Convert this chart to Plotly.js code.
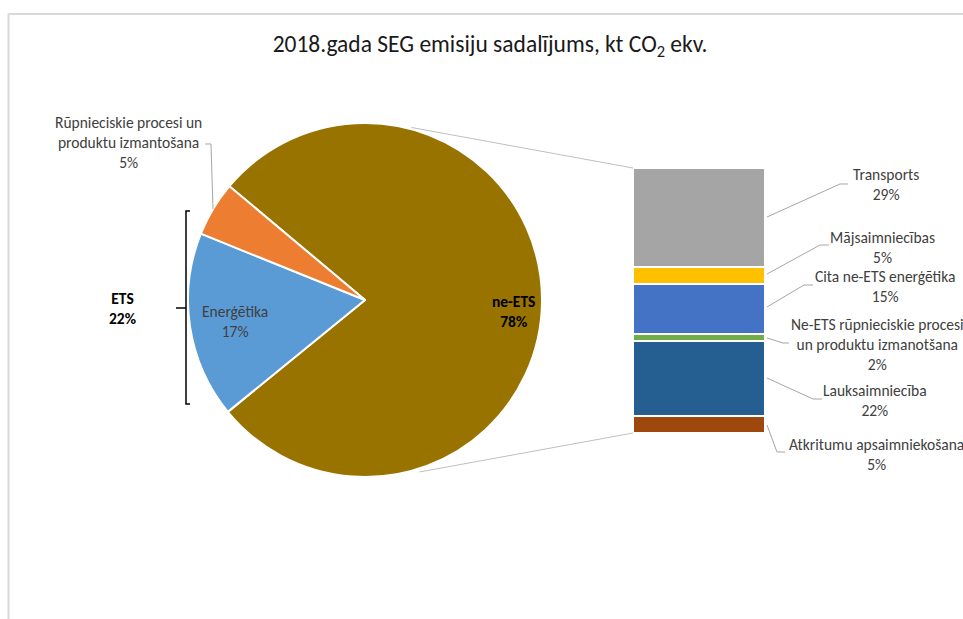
<!DOCTYPE html>
<html><head><meta charset="utf-8">
<script src="https://cdn.plot.ly/plotly-3.0.1.min.js"></script>
<style>html,body{margin:0;padding:0;background:#fff}#chart{width:963px;height:619px}</style>
</head><body><div id="chart"></div>
<script>
// ---- data ----
const titleText = '2018.gada SEG emisiju sadalījums, kt CO<sub>2</sub> ekv.';
const pieLabels = ['ne-ETS', 'Enerģētika', 'Rūpnieciskie procesi un<br>produktu izmantošana'];
const pieValues = [78, 17, 5];
const pieColors = ['#997300', '#5B9BD5', '#ED7D31'];
const barLabels = ['Transports', 'Mājsaimniecības', 'Cita ne-ETS enerģētika',
  'Ne-ETS rūpnieciskie procesi<br>un produktu izmanotšana', 'Lauksaimniecība', 'Atkritumu apsaimniekošana'];
const barValues = [29, 5, 15, 2, 22, 5];
const barColors = ['#A5A5A5', '#FFC000', '#4472C4', '#70AD47', '#255E91', '#9E480E'];
const groupLabel = 'ETS';
const groupValue = 22;

// ---- layout helpers (pixel -> paper) ----
const W = 963, H = 619;
const px = x => x / W, py = y => 1 - y / H;
const FONT = 'Calibri, Carlito, "Liberation Sans", Arial, sans-serif';
const TXT = '#404040';
const FS = 15.5;
function path(pts) { return pts.map((p, i) => (i ? 'L' : 'M') + px(p[0]).toFixed(5) + ',' + py(p[1]).toFixed(5)).join(' '); }

const cx = 365, cy = 300, r = 177;
const pieTrace = {
  type: 'pie', labels: pieLabels, values: pieValues, sort: false,
  direction: 'clockwise', rotation: -50,
  marker: {colors: pieColors, line: {color: '#ffffff', width: 2}},
  textinfo: 'none', hoverinfo: 'label+percent', showlegend: false,
  domain: {x: [px(cx - r), px(cx + r)], y: [py(cy + r), py(cy - r)]}
};

const barTraces = [];
for (let i = barValues.length - 1; i >= 0; i--) {
  barTraces.push({
    type: 'bar', x: [0], y: [barValues[i]], name: barLabels[i], width: 1,
    marker: {color: barColors[i], line: {color: '#ffffff', width: 2}},
    xaxis: 'x', yaxis: 'y', showlegend: false, hoverinfo: 'name+y'
  });
}

const labelPos = [[886, 184.5], [882, 247], [885, 286], [877, 344], [875, 400], [876, 454]];
const leaders = [
  [[767, 217], [840, 184], [848, 184]],
  [[767, 274], [820, 245], [829, 245]],
  [[767, 307], [804, 285], [813, 285]],
  [[767, 338], [783, 343], [789, 343]],
  [[767, 378], [813, 399], [822, 399]],
  [[767, 425], [777, 452], [785, 452]]
];

const annotations = [];
function ann(text, x, y, bold, color) {
  annotations.push({text: bold ? '<b>' + text + '</b>' : text, x: px(x), y: py(y), xref: 'paper', yref: 'paper',
    xanchor: 'center', yanchor: 'middle', showarrow: false, align: 'center',
    font: {family: FONT, size: FS, color: color || TXT}});
}
barLabels.forEach((l, i) => ann(l + '<br>' + barValues[i] + '%', labelPos[i][0], labelPos[i][1]));
ann(pieLabels[0] + '<br>' + pieValues[0] + '%', 513, 311, true, '#000000');
ann(pieLabels[1] + '<br>' + pieValues[1] + '%', 235, 321);
ann(pieLabels[2] + '<br>' + pieValues[2] + '%', 128, 142.5);
ann(groupLabel + '<br>' + groupValue + '%', 122, 308.5, true, '#000000');

const shapes = [];
function sh(pts, color, width) {
  shapes.push({type: 'path', xref: 'paper', yref: 'paper', path: path(pts), line: {color: color, width: width}});
}
// frame
sh([[8.5, 619], [8.5, 14], [963, 14]], '#D9D9D9', 2);
// connectors pie -> bar
sh([[411.5, 127.5], [633, 168]], '#BFBFBF', 1);
sh([[419.5, 472], [633, 433]], '#BFBFBF', 1);
// leader lines
leaders.forEach(l => sh(l, '#A6A6A6', 1));
sh([[205, 144], [211, 144], [213, 209]], '#A6A6A6', 1);
// ETS bracket
sh([[190, 211], [186, 211], [186, 404], [190, 404]], '#000000', 1.5);
sh([[176, 308], [186, 308]], '#000000', 1.5);

const layout = {
  width: W, height: H, margin: {l: 0, r: 0, t: 0, b: 0},
  paper_bgcolor: '#ffffff', plot_bgcolor: 'rgba(0,0,0,0)',
  title: {text: titleText, x: px(490), xanchor: 'center', y: py(44), yanchor: 'middle',
    font: {family: FONT, size: 23.5, color: '#1a1a1a'}},
  barmode: 'stack', bargap: 0,
  xaxis: {domain: [px(633), px(765)], range: [-0.5, 0.5], visible: false, fixedrange: true},
  yaxis: {domain: [py(433), py(168)], range: [0, 78], visible: false, fixedrange: true},
  annotations: annotations, shapes: shapes
};

Plotly.newPlot('chart', [pieTrace].concat(barTraces), layout, {displayModeBar: false, staticPlot: true});
</script></body></html>
